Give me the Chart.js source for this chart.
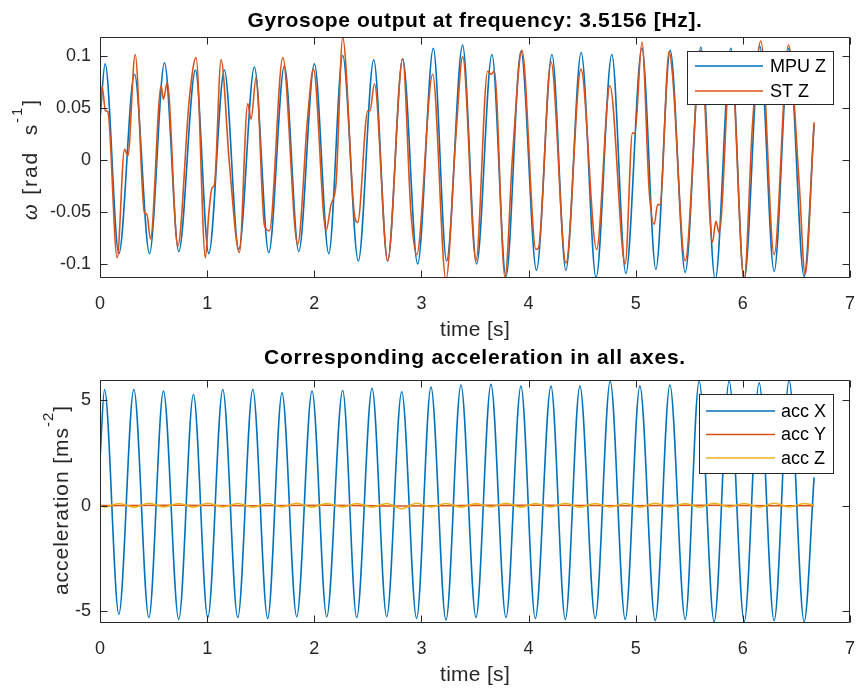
<!DOCTYPE html>
<html>
<head>
<meta charset="utf-8">
<script src="https://cdn.jsdelivr.net/npm/chart.js@4.4.1/dist/chart.umd.min.js"></script>
<style>
html, body { margin: 0; padding: 0; background: #fff; }
#wrap { position: relative; width: 859px; height: 691px; }
#wrap canvas { position: absolute; left: 0; top: 0; }
</style>
</head>
<body>
<div id="wrap">
  <canvas id="gyro" width="859" height="691"></canvas>
  <canvas id="acc" width="859" height="691"></canvas>
</div>
<script>
const FONT = '"Liberation Sans", Arial, sans-serif';
const INK = '#262626';
const BLUE = '#0072BD', ORANGE = '#D95319', YELLOW = '#EDB120';

// axis ticks
const timeTicks = [0, 1, 2, 3, 4, 5, 6, 7];
const gyroTicks = [-0.1, -0.05, 0, 0.05, 0.1];
const gyroTickLabels = ['-0.1', '-0.05', '0', '0.05', '0.1'];
const accTicks = [-5, 0, 5];
const accTickLabels = ['-5', '0', '5'];

// gyroscope [time s, rad/s] (peaks, troughs, shoulders)
const mpuZ = [
  [0, 0.039], [0.048, 0.092], [0.176, -0.090], [0.322, 0.082], [0.462, -0.090],
  [0.602, 0.093], [0.735, -0.088], [0.891, 0.086], [1.015, -0.090], [1.161, 0.086],
  [1.295, -0.086], [1.441, 0.089], [1.575, -0.089], [1.721, 0.090], [1.855, -0.088],
  [2.001, 0.092], [2.135, -0.090], [2.265, 0.100], [2.411, -0.097], [2.555, 0.096],
  [2.685, -0.097], [2.825, 0.097], [2.965, -0.100], [3.111, 0.107], [3.235, -0.097],
  [3.384, 0.110], [3.515, -0.100], [3.658, 0.101], [3.789, -0.112], [3.929, 0.104],
  [4.074, -0.106], [4.218, 0.101], [4.348, -0.106], [4.491, 0.103], [4.630, -0.113],
  [4.777, 0.101], [4.908, -0.109], [5.058, 0.107], [5.188, -0.105], [5.322, 0.105],
  [5.462, -0.108], [5.608, 0.108], [5.742, -0.115], [5.888, 0.107], [6.012, -0.115],
  [6.158, 0.109], [6.292, -0.107], [6.430, 0.107], [6.572, -0.112], [6.665, 0.034]
];
const stZ = [
  [0, 0.046], [0.020, 0.070], [0.051, 0.047], [0.073, 0.046], [0.160, -0.094],
  [0.229, 0.010], [0.260, 0.004], [0.328, 0.101], [0.415, -0.051], [0.437, -0.052],
  [0.471, -0.076], [0.571, 0.071], [0.592, 0.058], [0.627, 0.074], [0.726, -0.083],
  [0.835, 0.060], [0.897, 0.098], [0.984, -0.094], [1.015, -0.052], [1.046, -0.027],
  [1.068, -0.024], [1.130, 0.096], [1.208, -0.004], [1.301, -0.089], [1.379, 0.054],
  [1.410, 0.039], [1.457, 0.079], [1.535, -0.063], [1.581, -0.068], [1.706, 0.098],
  [1.845, -0.081], [1.939, 0.042], [1.992, 0.087], [2.110, -0.068], [2.156, -0.043],
  [2.203, -0.023], [2.265, 0.117], [2.374, -0.052], [2.405, -0.060], [2.499, 0.047],
  [2.520, 0.047], [2.561, 0.073], [2.685, -0.097], [2.825, 0.097], [2.903, -0.052],
  [2.956, -0.091], [3.105, 0.082], [3.229, -0.115], [3.323, 0.025], [3.385, 0.099],
  [3.509, -0.097], [3.618, 0.085], [3.650, 0.082], [3.680, 0.085], [3.780, -0.113],
  [3.851, 0.005], [3.938, 0.105], [4.069, -0.086], [4.094, -0.084], [4.209, 0.094],
  [4.349, -0.099], [4.489, 0.087], [4.635, -0.086], [4.759, 0.071], [4.902, -0.100],
  [4.970, 0.026], [4.992, 0.025], [5.058, 0.113], [5.126, -0.030], [5.173, -0.062],
  [5.204, -0.043], [5.226, -0.043], [5.312, 0.104], [5.343, 0.082], [5.462, -0.097],
  [5.608, 0.105], [5.717, -0.079], [5.748, -0.059], [5.779, -0.070], [5.888, 0.100],
  [6.012, -0.115], [6.090, 0.034], [6.168, 0.114], [6.292, -0.091], [6.426, 0.110],
  [6.526, -0.023], [6.581, -0.110], [6.665, 0.036]
];

// acceleration [time s, m/s^2]
const accX = [
  [0, 2.2], [0.042, 5.52], [0.176, -5.16], [0.316, 5.52], [0.456, -5.32],
  [0.592, 5.44], [0.735, -5.41], [0.872, 5.28], [1.006, -5.32], [1.146, 5.52],
  [1.286, -5.32], [1.426, 5.52], [1.565, -5.36], [1.699, 5.36], [1.836, -5.28],
  [1.979, 5.44], [2.116, -5.28], [2.265, 5.47], [2.396, -5.32], [2.539, 5.57],
  [2.676, -5.28], [2.816, 5.41], [2.955, -5.36], [3.089, 5.63], [3.229, -5.44],
  [3.369, 5.73], [3.509, -5.32], [3.649, 5.76], [3.789, -5.32], [3.929, 5.68],
  [4.063, -5.36], [4.209, 5.68], [4.343, -5.41], [4.479, 5.68], [4.622, -5.36],
  [4.762, 5.91], [4.902, -5.41], [5.039, 5.68], [5.182, -5.47], [5.319, 5.73],
  [5.462, -5.41], [5.592, 5.91], [5.732, -5.52], [5.872, 5.91], [6.013, -5.52],
  [6.152, 5.84], [6.292, -5.47], [6.432, 5.95], [6.572, -5.52], [6.665, 1.34]
];
const accY = [
  [0, 0.00], [0.70, 0.02], [1.40, -0.01], [2.10, 0.02], [2.80, -0.02], [3.50, 0.01],
  [4.20, 0.02], [4.90, -0.01], [5.60, 0.02], [6.30, -0.01], [6.665, 0.00]
];
const accZ = [
  [0, 0.02], [0.042, -0.06], [0.176, 0.10], [0.316, -0.07], [0.456, 0.11],
  [0.592, -0.06], [0.735, 0.10], [0.872, -0.07], [1.006, 0.11], [1.146, -0.06],
  [1.286, 0.10], [1.426, -0.07], [1.565, 0.10], [1.699, -0.06], [1.836, 0.11],
  [1.979, -0.07], [2.116, 0.10], [2.265, -0.06], [2.396, 0.10], [2.539, -0.07],
  [2.676, 0.10], [2.816, -0.15], [2.955, 0.11], [3.089, -0.06], [3.229, 0.10],
  [3.369, -0.07], [3.509, 0.10], [3.649, -0.06], [3.789, 0.11], [3.929, -0.07],
  [4.063, 0.10], [4.209, -0.06], [4.343, 0.11], [4.479, -0.07], [4.622, 0.10],
  [4.762, -0.06], [4.902, 0.10], [5.039, -0.07], [5.182, 0.11], [5.319, -0.06],
  [5.462, 0.10], [5.592, -0.07], [5.732, 0.11], [5.872, -0.06], [6.013, 0.10],
  [6.152, -0.07], [6.292, 0.11], [6.432, -0.06], [6.572, 0.10], [6.665, 0.02]
];

function toPoints(pairs) {
  return pairs.map(p => ({ x: p[0], y: p[1] }));
}

function line(label, pairs, color, order) {
  return {
    label: label,
    data: toPoints(pairs),
    borderColor: color,
    backgroundColor: color,
    borderWidth: 1.6,
    pointRadius: 0,
    cubicInterpolationMode: 'monotone',
    order: order
  };
}

// text spread a little to the width it has in the picture
function spacedText(ctx, text, x, y, target) {
  ctx.letterSpacing = '0px';
  const w = ctx.measureText(text).width;
  ctx.letterSpacing = Math.max(0, (target - w) / text.length) + 'px';
  ctx.fillText(text, x, y);
  ctx.letterSpacing = '0px';
}

// rotated label with a superscript part
function drawRotated(ctx, parts, baseX, cy, target) {
  ctx.save();
  ctx.translate(baseX, cy);
  ctx.rotate(-Math.PI / 2);
  ctx.textAlign = 'left';
  ctx.textBaseline = 'alphabetic';
  ctx.letterSpacing = '0px';
  let natural = 0, chars = 0;
  parts.forEach(p => { ctx.font = p.font; natural += ctx.measureText(p.text).width; chars += p.text.length; });
  const sp = Math.max(0, (target - natural) / chars);
  ctx.letterSpacing = sp + 'px';
  const widths = parts.map(p => { ctx.font = p.font; return ctx.measureText(p.text).width; });
  let x = -widths.reduce((s, w) => s + w, 0) / 2;
  parts.forEach((p, i) => {
    ctx.font = p.font;
    ctx.fillText(p.text, x, -(p.rise || 0));
    x += widths[i];
  });
  ctx.letterSpacing = '0px';
  ctx.restore();
}

// matlab-like box, inward ticks, titles and legend
const matlabAxes = {
  id: 'matlab',
  afterDatasetsDraw(chart, args, o) {
    const { ctx, chartArea: a, scales } = chart;
    const L = Math.round(a.left) + 0.5, R = Math.round(a.right) - 0.5;
    const T = Math.round(a.top) + 0.5, B = Math.round(a.bottom) - 0.5;
    ctx.save();
    ctx.strokeStyle = INK;
    ctx.lineWidth = 1;
    ctx.beginPath();
    ctx.rect(L, T, R - L, B - T);
    scales.x.ticks.forEach(t => {
      const px = Math.round(scales.x.getPixelForValue(t.value)) + 0.5;
      ctx.moveTo(px, B); ctx.lineTo(px, B - 7);
      ctx.moveTo(px, T); ctx.lineTo(px, T + 7);
    });
    scales.y.ticks.forEach(t => {
      const py = Math.round(scales.y.getPixelForValue(t.value)) + 0.5;
      ctx.moveTo(L, py); ctx.lineTo(L + 7, py);
      ctx.moveTo(R, py); ctx.lineTo(R - 7, py);
    });
    ctx.stroke();

    const cx = (a.left + a.right) / 2;
    ctx.fillStyle = '#000';
    ctx.textAlign = 'center';
    ctx.textBaseline = 'middle';
    ctx.font = 'bold 21px ' + FONT;
    spacedText(ctx, o.title, cx, o.titleY, o.titleW);
    ctx.fillStyle = INK;
    ctx.font = '21px ' + FONT;
    spacedText(ctx, o.xlabel, cx, o.xlabelY, 70);
    drawRotated(ctx, o.ylabel, o.ylabelX, o.ylabelY, o.ylabelW);

    // legend
    const lg = o.legend;
    ctx.fillStyle = '#fff';
    ctx.fillRect(lg.x, lg.y, lg.w, lg.h);
    ctx.strokeStyle = INK;
    ctx.strokeRect(lg.x + 0.5, lg.y + 0.5, lg.w, lg.h);
    ctx.font = '18px ' + FONT;
    ctx.textAlign = 'left';
    chart.data.datasets.forEach((ds, i) => {
      const y = lg.rowY + i * lg.rowH;
      ctx.strokeStyle = ds.borderColor;
      ctx.lineWidth = 1.6;
      ctx.beginPath();
      ctx.moveTo(lg.x1, y); ctx.lineTo(lg.x2, y);
      ctx.stroke();
      ctx.fillStyle = '#000';
      ctx.fillText(ds.label, lg.tx, y + 1);
    });
    ctx.restore();
  }
};

function makeChart(id, datasets, yMin, yMax, yTicks, yLabels, pad, plug) {
  return new Chart(document.getElementById(id), {
    type: 'line',
    data: { datasets: datasets },
    plugins: [matlabAxes],
    options: {
      responsive: false,
      animation: false,
      events: [],
      layout: { padding: pad },
      plugins: { legend: { display: false }, tooltip: { enabled: false }, matlab: plug },
      scales: {
        x: {
          type: 'linear', min: 0, max: 7,
          afterBuildTicks: s => { s.ticks = timeTicks.map(v => ({ value: v })); },
          afterFit: s => { s.height = 60; s.paddingLeft = 0; s.paddingRight = 0; },
          grid: { display: false, drawTicks: false },
          border: { display: false },
          ticks: { color: INK, font: { family: FONT, size: 18 }, padding: 15, maxRotation: 0, callback: v => String(v) }
        },
        y: {
          type: 'linear', min: yMin, max: yMax,
          afterBuildTicks: s => { s.ticks = yTicks.map(v => ({ value: v })); },
          afterFit: s => { s.width = 100; s.paddingTop = 0; s.paddingBottom = 0; },
          grid: { display: false, drawTicks: false },
          border: { display: false },
          ticks: { color: INK, font: { family: FONT, size: 18 }, padding: 9, callback: v => yLabels[yTicks.indexOf(v)] }
        }
      }
    }
  });
}

makeChart('gyro',
  [line('MPU Z', mpuZ, BLUE, 1), line('ST Z', stZ, ORANGE, 0)],
  -0.1134, 0.1178, gyroTicks, gyroTickLabels,
  { top: 37, left: 0, right: 9, bottom: 353 },
  {
    title: 'Gyrosope output at frequency: 3.5156 [Hz].', titleY: 21, titleW: 455,
    xlabel: 'time [s]', xlabelY: 330,
    ylabelX: 37, ylabelY: 159, ylabelW: 122,
    ylabel: [
      { text: 'ω', font: 'italic 20px ' + FONT },
      { text: ' [rad  s', font: '21px ' + FONT },
      { text: '-1', font: '15px ' + FONT, rise: 15 },
      { text: ']', font: '21px ' + FONT }
    ],
    legend: { x: 687, y: 51, w: 146, h: 53, x1: 695, x2: 763, tx: 770, rowY: 66, rowH: 25 }
  });

makeChart('acc',
  [line('acc X', accX, BLUE, 2), line('acc Y', accY, ORANGE, 1), line('acc Z', accZ, YELLOW, 0)],
  -5.58, 5.97, accTicks, accTickLabels,
  { top: 380, left: 0, right: 9, bottom: 8 },
  {
    title: 'Corresponding acceleration in all axes.', titleY: 358, titleW: 422,
    xlabel: 'time [s]', xlabelY: 675,
    ylabelX: 68, ylabelY: 500, ylabelW: 190,
    ylabel: [
      { text: 'acceleration [ms', font: '21px ' + FONT },
      { text: '-2', font: '15px ' + FONT, rise: 15 },
      { text: ']', font: '21px ' + FONT }
    ],
    legend: { x: 699, y: 394, w: 134, h: 79, x1: 706, x2: 775, tx: 781, rowY: 411, rowH: 23.5 }
  });
</script>
</body>
</html>
